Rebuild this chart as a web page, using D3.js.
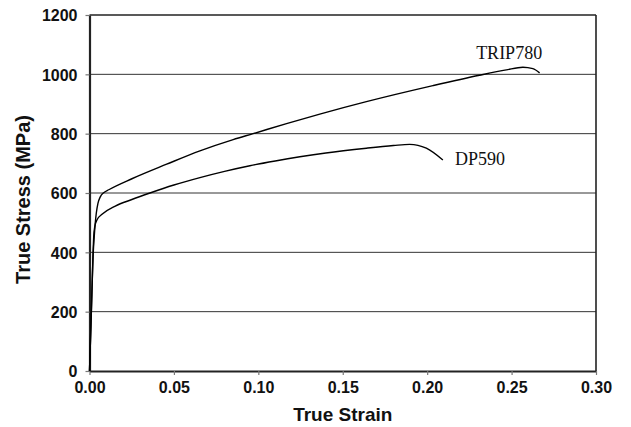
<!DOCTYPE html>
<html><head><meta charset="utf-8">
<script src="https://cdn.jsdelivr.net/npm/d3@7"></script>
<style>html,body{margin:0;padding:0;background:#fff;}svg{display:block;}</style>
</head><body>
<svg id="chart" width="631" height="427"></svg>
<script>
// Data
const xTicks = [0, 0.05, 0.10, 0.15, 0.20, 0.25, 0.30];
const yTicks = [0, 200, 400, 600, 800, 1000, 1200];
const tripStrain = [0, 0.001, 0.0022, 0.0028, 0.0034, 0.004, 0.005, 0.0064, 0.0084, 0.0114, 0.0251, 0.0457, 0.0654, 0.0851, 0.0969, 0.1167, 0.1364, 0.164, 0.2034, 0.231, 0.2469, 0.2567, 0.2626, 0.2666];
const tripStress = [0, 180, 397, 453, 498, 531, 565, 587, 601, 611, 648, 697, 742, 780, 800, 834, 866, 908, 962, 997, 1015, 1024, 1019, 1005];
const dpStrain = [0, 0.001, 0.0021, 0.0025, 0.0031, 0.0044, 0.0074, 0.0153, 0.0251, 0.0358, 0.05, 0.0654, 0.08, 0.095, 0.11, 0.1246, 0.14, 0.164, 0.18, 0.1896, 0.1995, 0.2093];
const dpStress = [0, 180, 397, 453, 486, 509, 528, 556, 578, 600, 627, 652, 673, 692, 708, 722, 735, 751, 760, 764, 751, 711];
const seriesNames = ["TRIP780", "DP590"];

const svg = d3.select("#chart");
const L = 89.5, R = 596, T = 15, B = 371;
const x = d3.scaleLinear().domain([0, 0.30]).range([L, R]);
const y = d3.scaleLinear().domain([0, 1200]).range([B, T]);

// gridlines
svg.append("g").selectAll("line").data(yTicks.filter(d => d > 0)).join("line")
  .attr("x1", L).attr("x2", R).attr("y1", d => y(d)).attr("y2", d => y(d))
  .attr("stroke", d => d === 1200 ? "#222" : "#333").attr("stroke-width", d => d === 1200 ? 1.6 : 1);
// right border
svg.append("line").attr("x1", R).attr("x2", R).attr("y1", T).attr("y2", B).attr("stroke", "#222").attr("stroke-width", 1.6);

// axes
const xAxis = d3.axisBottom(x).tickValues(xTicks).tickFormat(d3.format(".2f")).tickSize(4).tickSizeOuter(0);
const gx = svg.append("g").attr("transform", `translate(0,${B})`).call(xAxis);
gx.select(".domain").attr("stroke", "#222").attr("stroke-width", 2.2);
gx.selectAll(".tick line").attr("stroke", "#777").attr("stroke-width", 1.2);
gx.selectAll("text").attr("font-family", "Liberation Sans, Arial, sans-serif").attr("font-weight", "bold")
  .attr("font-size", 16).attr("fill", "#111").attr("dy", "0.71em").attr("y", 11);

const yAxis = d3.axisLeft(y).tickValues(yTicks).tickFormat(d3.format("d")).tickSize(4).tickSizeOuter(0);
const gy = svg.append("g").attr("transform", `translate(${L},0)`).call(yAxis);
gy.select(".domain").attr("stroke", "#222").attr("stroke-width", 2.2);
gy.selectAll(".tick line").attr("stroke", "#777").attr("stroke-width", 1.2);
gy.selectAll("text").attr("font-family", "Liberation Sans, Arial, sans-serif").attr("font-weight", "bold")
  .attr("font-size", 16).attr("fill", "#111").attr("x", -12).attr("dy", "0.36em");

// axis titles
svg.append("text").attr("x", (L + R) / 2).attr("y", 421).attr("text-anchor", "middle")
  .attr("font-family", "Liberation Sans, Arial, sans-serif").attr("font-weight", "bold").attr("font-size", 19)
  .attr("fill", "#111").text("True Strain");
svg.append("text").attr("transform", "translate(30,199.5) rotate(-90)").attr("text-anchor", "middle")
  .attr("font-family", "Liberation Sans, Arial, sans-serif").attr("font-weight", "bold").attr("font-size", 20)
  .attr("fill", "#111").text("True Stress (MPa)");

// curves
const line = d3.line().x(d => x(d[0])).y(d => y(d[1])).curve(d3.curveMonotoneX);
const series = [d3.zip(tripStrain, tripStress), d3.zip(dpStrain, dpStress)];
svg.append("g").selectAll("path").data(series).join("path")
  .attr("d", line).attr("fill", "none").attr("stroke", "#000").attr("stroke-width", 1.4);

// series labels
const labelPos = [[0.229, 1052], [0.2165, 695]];
svg.append("g").selectAll("text").data(seriesNames).join("text")
  .attr("x", (d, i) => x(labelPos[i][0])).attr("y", (d, i) => y(labelPos[i][1]))
  .attr("font-family", "Liberation Serif, Times New Roman, serif").attr("font-size", 18)
  .attr("fill", "#111").text(d => d);
</script>
</body></html>
